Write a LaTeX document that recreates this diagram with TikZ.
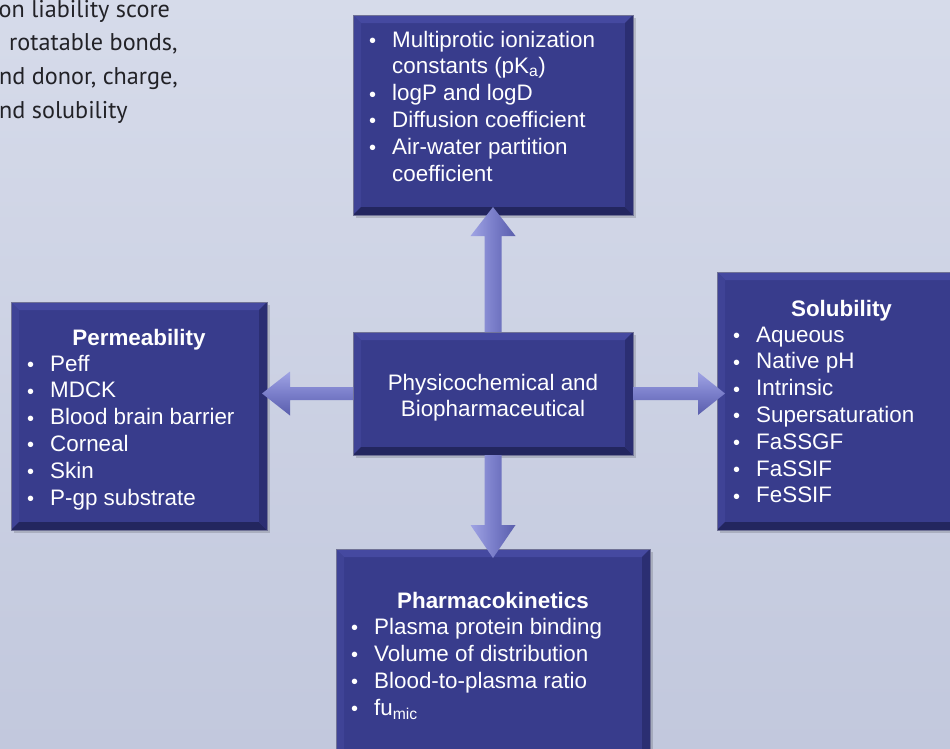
\documentclass[tikz,border=0pt]{standalone}
\usepackage{fontspec}
\setmainfont{Liberation Sans}
\newfontfamily\dinfont{PT Sans}
\usetikzlibrary{calc}
\definecolor{bgtop}{HTML}{D6DBEA}
\definecolor{bgbot}{HTML}{C2C8DD}
\definecolor{boxfill}{HTML}{383C8C}
\definecolor{bevlight}{HTML}{4549A0}
\definecolor{bevleft}{HTML}{3F4396}
\definecolor{bevdark}{HTML}{23265F}
\definecolor{bevside}{HTML}{2B2E72}
\definecolor{boxline}{HTML}{707296}
\definecolor{arrlight}{HTML}{A0A4E4}
\definecolor{arrmid}{HTML}{7A7ECA}
\definecolor{arrdark}{HTML}{5A5EAC}
\definecolor{txtgray}{HTML}{222227}
\newcommand\bvw{8pt}
\newcommand\bul{\makebox[23pt][l]{\fontsize{20}{20}\selectfont\raisebox{-0.5pt}{•}}}
\newcommand\nobul{\hspace*{23pt}}
\newcommand\bevel[1]{%
  \fill[black,opacity=.15] ([shift={(3pt,-3pt)}]#1.north west) rectangle ([shift={(3pt,-3pt)}]#1.south east);
  \fill[boxfill] (#1.north west) rectangle (#1.south east);
  \fill[bevlight] (#1.north west) -- (#1.north east) -- ([shift={(-\bvw,-\bvw)}]#1.north east) -- ([shift={(\bvw,-\bvw)}]#1.north west) -- cycle;
  \fill[bevleft] (#1.north west) -- ([shift={(\bvw,-\bvw)}]#1.north west) -- ([shift={(\bvw,\bvw)}]#1.south west) -- (#1.south west) -- cycle;
  \fill[bevdark] (#1.south west) -- ([shift={(\bvw,\bvw)}]#1.south west) -- ([shift={(-\bvw,\bvw)}]#1.south east) -- (#1.south east) -- cycle;
  \fill[bevside] (#1.south east) -- ([shift={(-\bvw,\bvw)}]#1.south east) -- ([shift={(-\bvw,-\bvw)}]#1.north east) -- (#1.north east) -- cycle;
  \draw[boxline,line width=0.8pt] (#1.north west) rectangle (#1.south east);
}
\newcommand\itemlist[5]{%
  \foreach \t [count=\i from 0] in {#5} {\node[itm] (#1\i) at (#2,{#3+\i*#4}) {\t};}}
\tikzset{
  panel/.style={rectangle, inner sep=0pt, outer sep=0pt},
  itm/.style={text=white, font=\fontsize{22.4}{26}\selectfont, inner sep=0pt, anchor=base west},
  ttl/.style={text=white, font=\fontsize{22.4}{26}\selectfont\bfseries, inner sep=0pt, anchor=base},
  cornertxt/.style={text=txtgray, font=\dinfont\fontsize{24.2}{28}\selectfont, inner sep=0pt, anchor=base west},
  harrow/.style={top color=arrlight, bottom color=arrdark, middle color=arrmid},
  varrow/.style={left color=arrlight, right color=arrdark, middle color=arrmid},
}
\begin{document}
\begin{tikzpicture}[x=1pt,y=-1pt]
\useasboundingbox (0,0) rectangle (950,748);
\clip (0,0) rectangle (950,748);
\shade[top color=bgtop, bottom color=bgbot] (0,0) rectangle (950,748);

% corner text (cut off at the left edge)
\node[cornertxt] (c1) at (-1.5,17) {on liability score};
\node[cornertxt] (c2) at (9,50.5) {rotatable bonds,};
\node[cornertxt] (c3) at (-1,84) {nd donor, charge,};
\node[cornertxt] (c4) at (-1,118) {nd solubility};

% panels
\node[panel, minimum width=280, minimum height=200] (top) at (493,115) {};
\node[panel, minimum width=280, minimum height=123] (mid) at (493,393.5) {};
\node[panel, minimum width=256, minimum height=228] (left) at (139,416) {};
\node[panel, minimum width=249, minimum height=258] (right) at (841.5,401) {};
\node[panel, minimum width=314, minimum height=221] (bot) at (493,659.5) {};
\bevel{top}
\bevel{mid}
\bevel{left}
\bevel{right}
\bevel{bot}

% arrows
\shade[varrow] ($(mid.north)+(-8.5,0)$) -- ($(top.south)+(-8.5,21)$) -- ($(top.south)+(-22.5,21)$) -- ($(top.south)+(0,-8)$) -- ($(top.south)+(22.5,21)$) -- ($(top.south)+(8.5,21)$) -- ($(mid.north)+(8.5,0)$) -- cycle;
\shade[varrow] ($(mid.south)+(-8.5,0)$) -- ($(bot.north)+(-8.5,-24)$) -- ($(bot.north)+(-22.5,-24)$) -- ($(bot.north)+(0,9)$) -- ($(bot.north)+(22.5,-24)$) -- ($(bot.north)+(8.5,-24)$) -- ($(mid.south)+(8.5,0)$) -- cycle;
\coordinate (lj) at (left.east |- mid.west);
\shade[harrow] ($(mid.west)+(0,-6.5)$) -- ($(lj)+(23,-6.5)$) -- ($(lj)+(23,-22)$) -- ($(lj)+(-5,0)$) -- ($(lj)+(23,22)$) -- ($(lj)+(23,6.5)$) -- ($(mid.west)+(0,6.5)$) -- cycle;
\coordinate (rj) at (right.west |- mid.east);
\shade[harrow] ($(mid.east)+(0,-6.5)$) -- ($(rj)+(-19,-6.5)$) -- ($(rj)+(-19,-21.5)$) -- ($(rj)+(8,0)$) -- ($(rj)+(-19,21.5)$) -- ($(rj)+(-19,6.5)$) -- ($(mid.east)+(0,6.5)$) -- cycle;

% centre text
\node[text=white, font=\fontsize{22.4}{26}\selectfont, inner sep=0pt, anchor=base] (m1) at (493,390) {Physicochemical and};
\node[text=white, font=\fontsize{22.4}{26}\selectfont, inner sep=0pt, anchor=base] (m2) at (493,416.5) {Biopharmaceutical};

% top list
\itemlist{T}{369}{47}{26.8}{\bul Multiprotic ionization,\nobul constants (pK\textsubscript{a}),\bul logP and logD,\bul Diffusion coefficient,\bul Air-water partition,\nobul coefficient}

% left list
\node[ttl] (lt) at (139,345) {Permeability};
\itemlist{L}{27}{371}{26.8}{\bul Peff,\bul MDCK,\bul Blood brain barrier,\bul Corneal,\bul Skin,\bul P-gp substrate}

% right list
\node[ttl] (rt) at (841.5,316) {Solubility};
\itemlist{R}{733}{342}{26.8}{\bul Aqueous,\bul Native pH,\bul Intrinsic,\bul Supersaturation,\bul FaSSGF,\bul FaSSIF,\bul FeSSIF}

% bottom list
\node[ttl] (bt) at (493,608) {Pharmacokinetics};
\itemlist{B}{351}{634}{27}{\bul Plasma protein binding,\bul Volume of distribution,\bul Blood-to-plasma ratio,\bul fu\textsubscript{mic}}
\end{tikzpicture}
\end{document}
